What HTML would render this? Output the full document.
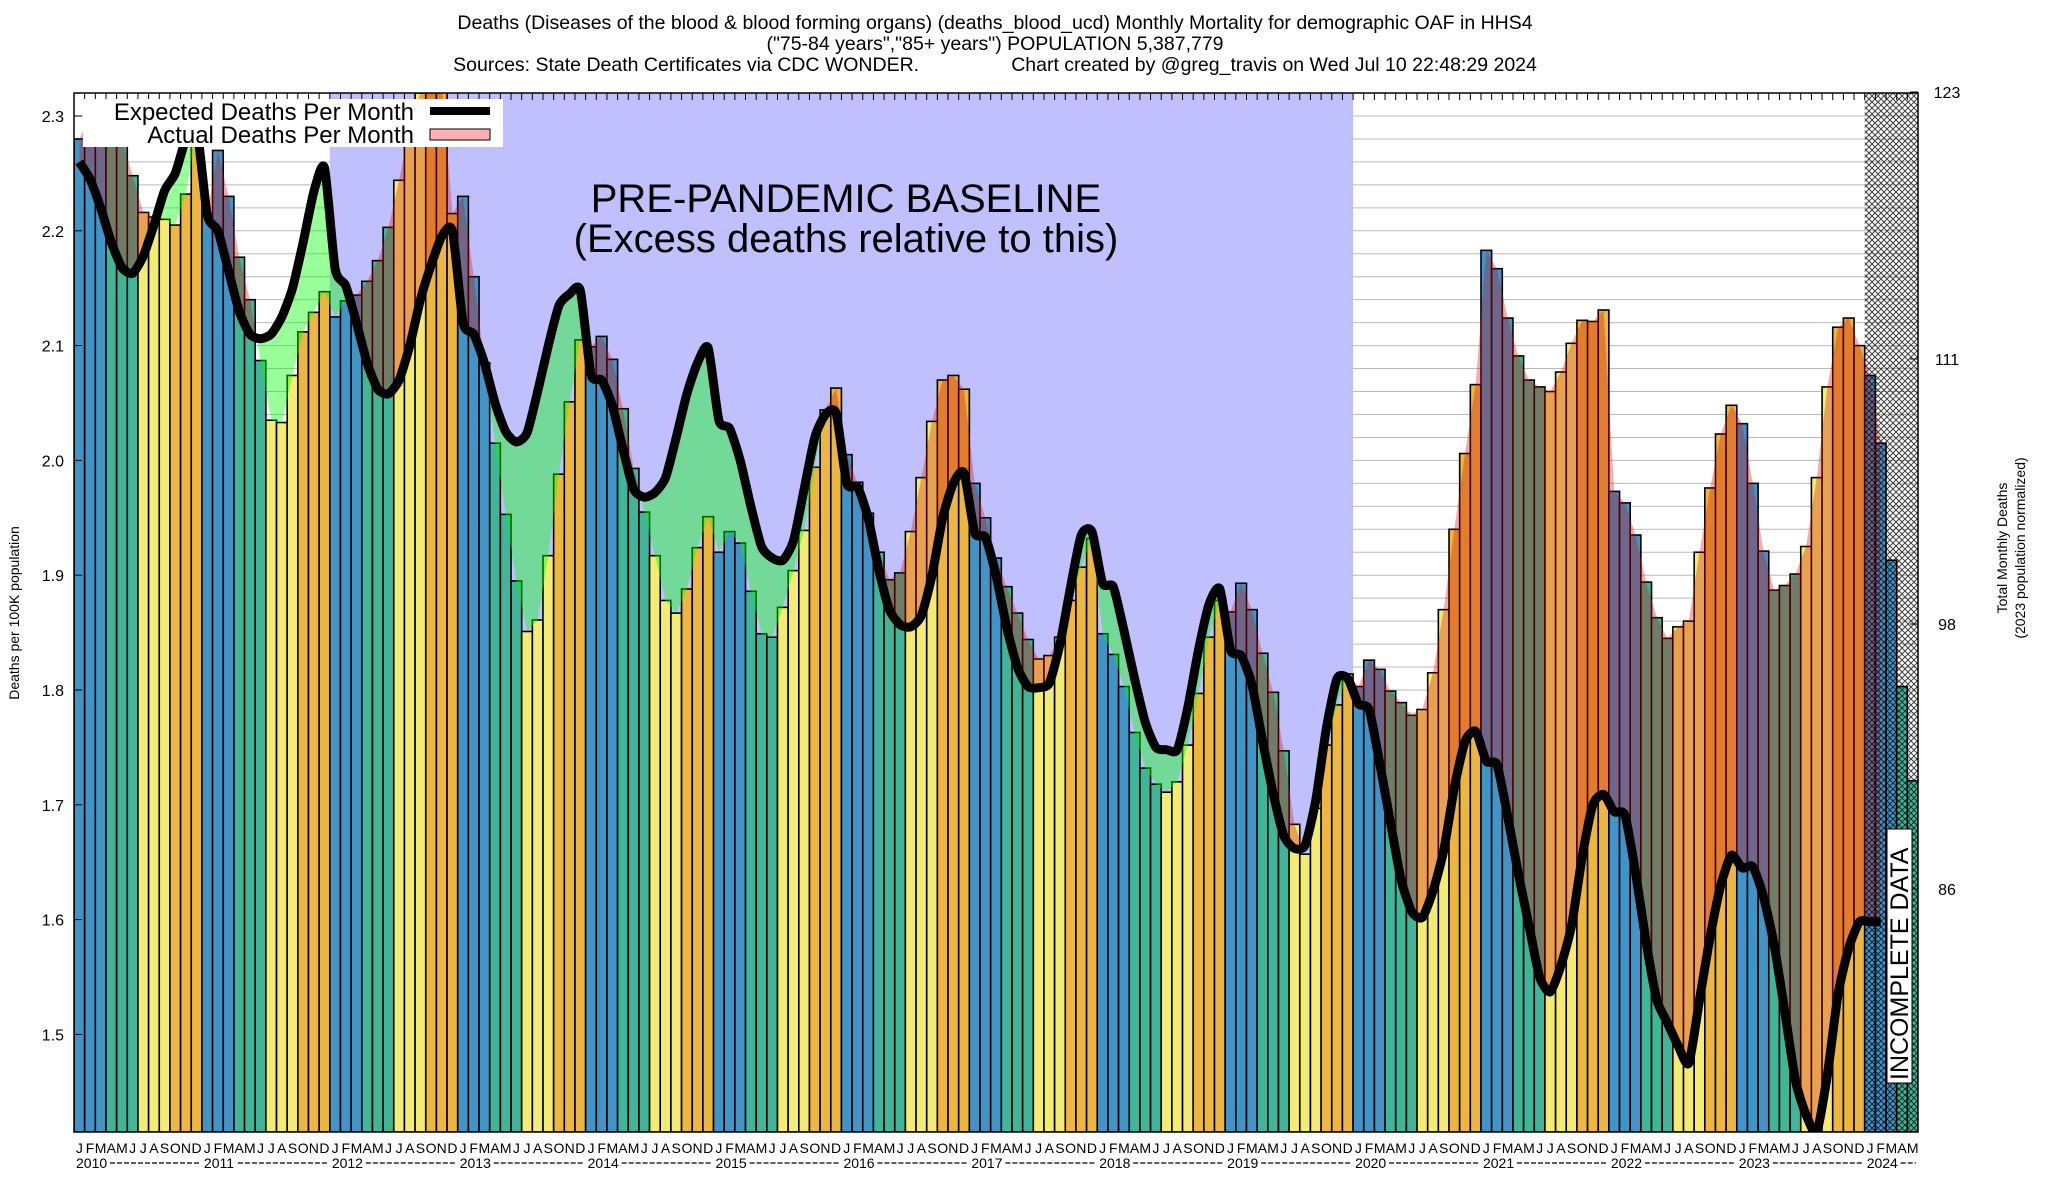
<!DOCTYPE html>
<html><head><meta charset="utf-8"><title>Deaths blood HHS4</title>
<style>
html,body{margin:0;padding:0;background:#fff;}
svg{display:block;font-family:"Liberation Sans",Arial,sans-serif;}
</style></head>
<body>
<svg id="chart" width="2048" height="1200" viewBox="0 0 2048 1200" xmlns="http://www.w3.org/2000/svg">
<defs>
<clipPath id="plotClip"><rect x="74" y="93" width="1844" height="1039"/></clipPath>
<pattern id="hatch" width="6" height="6" patternUnits="userSpaceOnUse">
<path d="M0,0 L6,6 M6,0 L0,6" stroke="#000" stroke-width="1"/>
</pattern>
</defs>
<g font-size="19.5" text-anchor="middle" fill="#000">
<text x="995" y="29">Deaths (Diseases of the blood &amp; blood forming organs) (deaths_blood_ucd) Monthly Mortality for demographic OAF in HHS4</text>
<text x="995" y="50">("75-84 years","85+ years") POPULATION 5,387,779</text>
<text x="995" y="71" xml:space="preserve">Sources: State Death Certificates via CDC WONDER.                 Chart created by @greg_travis on Wed Jul 10 22:48:29 2024</text>
</g>
<g id="plot" clip-path="url(#plotClip)"></g>
<g id="axes"></g>
<text x="846" y="212" font-size="40" text-anchor="middle">PRE-PANDEMIC BASELINE</text>
<text x="846" y="252" font-size="40" text-anchor="middle">(Excess deaths relative to this)</text>
<g>
<rect x="83" y="99" width="420" height="48" fill="#fff"/>
<text x="414" y="120" font-size="24" text-anchor="end">Expected Deaths Per Month</text>
<line x1="430" y1="111" x2="490" y2="111" stroke="#000" stroke-width="8"/>
<text x="414" y="143" font-size="24" text-anchor="end">Actual Deaths Per Month</text>
<rect x="430" y="129" width="60" height="11" fill="#ffb0b0" stroke="#000" stroke-width="1"/>
</g>
<g>
<rect x="1887" y="829" width="25" height="254" fill="#fff" stroke="#000" stroke-width="1"/>
<text transform="translate(1908,1080) rotate(-90)" font-size="25">INCOMPLETE DATA</text>
</g>
<text transform="translate(19,613) rotate(-90)" font-size="14" text-anchor="middle">Deaths per 100K population</text>
<text transform="translate(2007,548) rotate(-90)" font-size="14" text-anchor="middle">Total Monthly Deaths</text>
<text transform="translate(2025,548) rotate(-90)" font-size="14" text-anchor="middle">(2023 population normalized)</text>
</svg>
<script>
const actualValues = [2.28,2.30,2.30,2.30,2.28,2.248,2.216,2.212,2.21,2.205,2.232,2.29,
2.215,2.27,2.23,2.177,2.14,2.087,2.035,2.033,2.074,2.112,2.129,2.147,
2.125,2.139,2.144,2.156,2.174,2.203,2.244,2.29,2.32,2.33,2.33,2.215,
2.23,2.16,2.085,2.015,1.953,1.895,1.851,1.861,1.917,1.988,2.051,2.105,
2.099,2.108,2.088,2.045,1.993,1.955,1.917,1.878,1.867,1.888,1.924,1.951,
1.92,1.938,1.928,1.886,1.849,1.846,1.872,1.904,1.939,1.994,2.044,2.063,
2.005,1.981,1.954,1.92,1.896,1.902,1.938,1.985,2.034,2.07,2.074,2.062,
1.98,1.95,1.915,1.89,1.867,1.844,1.827,1.83,1.846,1.878,1.907,1.932,
1.849,1.831,1.803,1.763,1.732,1.718,1.711,1.72,1.752,1.797,1.846,1.878,
1.868,1.893,1.87,1.832,1.798,1.747,1.683,1.657,1.697,1.752,1.787,1.814,
1.803,1.826,1.818,1.799,1.789,1.778,1.783,1.815,1.87,1.94,2.006,2.066,
2.183,2.167,2.124,2.091,2.07,2.064,2.06,2.077,2.102,2.122,2.121,2.131,
1.973,1.963,1.935,1.894,1.863,1.845,1.855,1.86,1.92,1.976,2.023,2.048,
2.032,1.98,1.921,1.887,1.891,1.901,1.925,1.985,2.064,2.116,2.124,2.1,
2.074,2.015,1.913,1.803,1.721];
const expectedValues = [2.26,2.245,2.22,2.19,2.168,2.163,2.178,2.205,2.235,2.25,2.28,2.29,
2.214,2.2,2.165,2.13,2.11,2.106,2.11,2.125,2.15,2.19,2.234,2.255,
2.167,2.152,2.12,2.085,2.062,2.058,2.07,2.1,2.14,2.17,2.195,2.2,
2.12,2.11,2.085,2.05,2.025,2.016,2.024,2.06,2.1,2.135,2.145,2.148,
2.075,2.07,2.048,2.01,1.975,1.968,1.972,1.985,2.02,2.058,2.085,2.098,
2.035,2.028,2.0,1.96,1.925,1.915,1.913,1.93,1.975,2.02,2.04,2.041,
1.98,1.977,1.95,1.905,1.87,1.857,1.855,1.865,1.9,1.95,1.98,1.989,
1.937,1.933,1.9,1.855,1.82,1.803,1.802,1.806,1.84,1.89,1.935,1.938,
1.893,1.89,1.852,1.81,1.772,1.75,1.748,1.748,1.785,1.835,1.875,1.888,
1.835,1.83,1.805,1.756,1.71,1.673,1.662,1.665,1.704,1.767,1.81,1.81,
1.788,1.783,1.736,1.685,1.635,1.607,1.602,1.625,1.66,1.715,1.755,1.764,
1.738,1.735,1.69,1.64,1.595,1.55,1.537,1.56,1.595,1.655,1.7,1.709,
1.694,1.691,1.641,1.58,1.53,1.51,1.49,1.475,1.53,1.585,1.63,1.656,
1.645,1.646,1.62,1.578,1.52,1.46,1.43,1.415,1.465,1.535,1.575,1.598,
1.598,1.598];
const monthLetters = ["J","F","M","A","M","J","J","A","S","O","N","D"];
const yearLabels = ["2010","2011","2012","2013","2014","2015","2016","2017","2018","2019","2020","2021","2022","2023","2024"];
const leftTicks = ["2.3","2.2","2.1","2.0","1.9","1.8","1.7","1.6","1.5"];
const rightTicks = ["123","111","98","86"];

const NS="http://www.w3.org/2000/svg";
const L=74,R=1918,T=93,B=1132,MW=(R-L)/173;
const X=m=>L+m*MW, XC=m=>L+(m+0.5)*MW;
const Y=v=>116+(2.3-v)*1148;
function mk(tag,attrs,parent){const e=document.createElementNS(NS,tag);for(const k in attrs)e.setAttribute(k,attrs[k]);parent.appendChild(e);return e;}
const plot=document.getElementById('plot'), axes=document.getElementById('axes');
const colors=["#4194c8","#4194c8","#4194c8","#40b597","#40b597","#40b597","#f4ec72","#f4ec72","#f4ec72","#ecb640","#ecb640","#ecb640"];

for(let v=1.42;v<=2.32;v+=0.02){const g=mk('line',{x1:L,x2:R,y1:Y(v),y2:Y(v),stroke:'#bbb','stroke-width':1},plot);

}
const bl=mk('rect',{x:X(24),y:T,width:X(120)-X(24),height:B-T,fill:'#c0c0ff'},plot);


actualValues.forEach((v,m)=>{const b=mk('rect',{x:X(m),y:Y(v),width:MW,height:B-Y(v),fill:colors[m%12],stroke:'#000','stroke-width':1.6},plot);

});
const n=expectedValues.length;
function pts(arr,cnt){const p=[];for(let m=0;m<cnt;m++)p.push([XC(m),Y(arr[m])]);return p;}
const ep=pts(expectedValues,n), ap=pts(actualValues,n);
function spline(p){let d='M'+p[0][0]+','+p[0][1];for(let i=0;i<p.length-1;i++){const p0=p[Math.max(i-1,0)],p1=p[i],p2=p[i+1],p3=p[Math.min(i+2,p.length-1)];
d+=' C'+(p1[0]+(p2[0]-p0[0])/9)+','+(p1[1]+(p2[1]-p0[1])/9)+' '+(p2[0]-(p3[0]-p1[0])/9)+','+(p2[1]-(p3[1]-p1[1])/9)+' '+p2[0]+','+p2[1];}return d;}
const defs=document.querySelector('defs');
const ePath=spline(ep);
const cu=mk('clipPath',{id:'aboveExp'},defs);mk('path',{d:ePath+' L'+ep[n-1][0]+','+0+' L'+ep[0][0]+',0 Z'},cu);
const cd=mk('clipPath',{id:'belowExp'},defs);mk('path',{d:ePath+' L'+ep[n-1][0]+',1200 L'+ep[0][0]+',1200 Z'},cd);
let band='M'+ap.map(p=>p.join(',')).join(' L');
band+=' L'+ep.slice().reverse().map(p=>p.join(',')).join(' L')+' Z';
const ex=mk('path',{d:band,fill:'rgba(210,10,10,0.33)','clip-path':'url(#aboveExp)'},plot);


const df=mk('path',{d:band,fill:'rgba(0,255,0,0.4)','clip-path':'url(#belowExp)'},plot);


const el=mk('path',{d:ePath,fill:'none',stroke:'#000','stroke-width':9,'stroke-linejoin':'round','stroke-linecap':'butt'},plot);


const h=mk('rect',{x:X(168),y:T,width:R-X(168),height:B-T,fill:'url(#hatch)',opacity:0.75},plot);


const fr=mk('rect',{x:L,y:T,width:R-L,height:B-T,fill:'none',stroke:'#000','stroke-width':1.5},axes);


for(let m=0;m<=173;m++){mk('line',{x1:X(m),x2:X(m),y1:T,y2:T+7,stroke:'#000','stroke-width':1},axes);}
leftTicks.forEach(t=>{const y=Y(parseFloat(t));
mk('line',{x1:L,x2:L+8,y1:y,y2:y,stroke:'#000','stroke-width':1},axes);
const tx=mk('text',{x:L-10,y:y+6,'font-size':16,'text-anchor':'end'},axes);tx.textContent=t;

});
const rY=[92,359,624,889];
rightTicks.forEach((t,i)=>{mk('line',{x1:R-8,x2:R,y1:rY[i],y2:rY[i],stroke:'#000','stroke-width':1},axes);
const tx=mk('text',{x:1947,y:rY[i]+6,'font-size':16,'text-anchor':'middle'},axes);tx.textContent=t;

});
for(let m=0;m<173;m++){const tx=mk('text',{x:XC(m),y:1153,'font-size':14,'text-anchor':'middle'},axes);tx.textContent=monthLetters[m%12];

}
yearLabels.forEach((yr,i)=>{const x0=X(i*12);
const tx=mk('text',{x:x0+2,y:1168,'font-size':14},axes);tx.textContent=yr;


const x1=Math.min(X(i*12+12),R);
mk('line',{x1:x0+36,x2:x1-2,y1:1163,y2:1163,stroke:'#000','stroke-width':1.2,'stroke-dasharray':'5,2'},axes);});
</script>
</body></html>
